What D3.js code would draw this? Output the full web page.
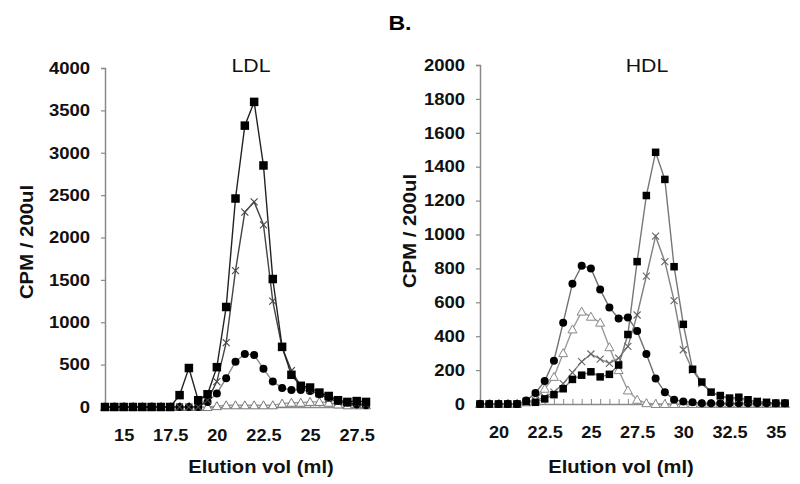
<!DOCTYPE html>
<html><head><meta charset="utf-8">
<script src="https://cdn.jsdelivr.net/npm/d3@7"></script>
<style>body{margin:0;background:#fff}svg{display:block}text{font-family:"Liberation Sans",Arial,sans-serif}</style>
</head><body><svg id="c" width="800" height="484"></svg>
<script>
// LDL panel: elution volume 14 .. 28 ml, step 0.5
const ldlVol = d3.range(14, 28.01, 0.5);
const ldlSquare = [0,0,0,0,0,0,0,0,140,460,80,150,470,1180,2460,3320,3600,2850,1510,710,380,250,230,170,130,80,60,70,60];
const ldlCross  = [0,0,0,0,0,0,0,0,0,0,0,80,300,760,1610,2300,2420,2150,1250,700,430,250,200,150,100,60,40,40,30];
const ldlCircle = [0,0,0,0,0,0,0,0,0,0,0,60,160,340,535,625,615,450,300,225,200,200,190,150,110,70,50,30,20];
const ldlTri    = [0,0,0,0,0,0,0,0,0,0,0,0,10,20,20,20,20,20,20,40,50,50,60,60,50,30,20,20,20];
const ldlXTicks = [15,17.5,20,22.5,25,27.5];
const ldlYTicks = [0,500,1000,1500,2000,2500,3000,3500,4000];

// HDL panel: elution volume 19 .. 35.5 ml, step 0.5
const hdlVol = d3.range(19, 35.51, 0.5);
const hdlSquare = [0,0,0,0,0,15,10,30,55,90,145,170,190,160,175,230,410,840,1230,1485,1325,810,470,205,130,70,50,35,40,25,15,10,5,5];
const hdlCross  = [0,0,0,0,0,10,20,40,70,120,185,250,295,265,240,270,340,525,755,990,840,610,320,200,120,70,45,30,30,20,15,10,5,5];
const hdlCircle = [0,0,0,0,0,20,65,135,255,480,710,815,800,675,570,505,510,430,295,150,70,25,15,10,5,5,5,5,5,5,5,5,5,5];
const hdlTri    = [0,0,0,0,0,10,25,90,160,300,440,545,515,480,335,200,80,25,5,0,0,0,0,0,0,0,0,0,0,0,0,0,0,0];
const hdlXTicks = [20,22.5,25,27.5,30,32.5,35];
const hdlYTicks = [0,200,400,600,800,1000,1200,1400,1600,1800,2000];

const svg = d3.select("#c");

// widen glyphs horizontally (the reference text looks stretched)
function stretch(sel, f){
  sel.each(function(){
    const w = this.getComputedTextLength();
    if (w > 0) d3.select(this).attr("textLength", w*f).attr("lengthAdjust","spacingAndGlyphs");
  });
}

stretch(svg.append("text").attr("x",400).attr("y",30).attr("text-anchor","middle")
  .attr("font-size",21).attr("font-weight","bold").text("B."), 1.1);

function panel(cfg){
  const x = d3.scaleLinear().domain(cfg.xDom).range(cfg.xRange);
  const y = d3.scaleLinear().domain(cfg.yDom).range(cfg.yRange);
  const g = svg.append("g");
  const axisCol = "#8a8a8a";
  const ff = "'Liberation Sans',Arial,sans-serif";
  // y axis
  const ya = g.append("g").attr("transform",`translate(${cfg.xRange[0]},0)`)
    .call(d3.axisLeft(y).tickValues(cfg.yTicks).tickSize(4).tickPadding(11).tickFormat(d=>String(d)));
  ya.select(".domain").attr("stroke",axisCol).attr("stroke-width",1.5);
  ya.selectAll(".tick line").attr("stroke",axisCol).attr("stroke-width",1.2);
  ya.selectAll("text").attr("font-size",16.5).attr("font-weight","bold").attr("fill","#111").attr("font-family",ff);
  stretch(ya.selectAll("text"), 1.12);
  // x axis line with small inner ticks every 0.5 ml
  const xa = g.append("g").attr("transform",`translate(0,${cfg.yRange[0]})`)
    .call(d3.axisBottom(x).tickValues(cfg.vol).tickSize(0).tickFormat(""));
  xa.select(".domain").attr("stroke",axisCol).attr("stroke-width",1.5);
  xa.selectAll(".tick line").remove();
  xa.selectAll(".tick").append("line").attr("y1",0).attr("y2",-5).attr("stroke",axisCol).attr("stroke-width",1);
  // x labels
  const xl = g.append("g").attr("transform",`translate(0,${cfg.yRange[0]})`)
    .call(d3.axisBottom(x).tickValues(cfg.xTicks).tickSize(0).tickPadding(22).tickFormat(d=>String(d)));
  xl.select(".domain").remove();
  xl.selectAll("text").attr("font-size",16.5).attr("font-weight","bold").attr("fill","#111").attr("font-family",ff);
  stretch(xl.selectAll("text"), 1.1);
  // titles
  stretch(g.append("text").attr("x",cfg.titleX).attr("y",72).attr("text-anchor","middle")
    .attr("font-size",19).attr("fill","#111").text(cfg.title), 1.12);
  stretch(g.append("text").attr("x",cfg.xTitleX).attr("y",473).attr("text-anchor","middle")
    .attr("font-size",18).attr("font-weight","bold").attr("fill","#111").text("Elution vol (ml)"), 1.12);
  const yt = g.append("text").attr("transform",`translate(${cfg.yTitleX},${cfg.yTitleY}) rotate(-90)`)
    .attr("text-anchor","middle").attr("font-size",18).attr("font-weight","bold").attr("fill","#111")
    .text("CPM  /  200ul");
  stretch(yt, 1.13);

  const line = d3.line().x((d,i)=>x(cfg.vol[i])).y(d=>y(d));
  cfg.series.forEach(s=>{
    g.append("path").datum(s.values).attr("d",line).attr("fill","none")
      .attr("stroke",s.line).attr("stroke-width",1.4);
  });
  cfg.series.forEach(s=>{
    const m = g.append("g");
    s.values.forEach((v,i)=>{
      const px = x(cfg.vol[i]), py = y(v);
      if(s.type==="square"){
        m.append("rect").attr("x",px-s.size/2).attr("y",py-s.size/2)
          .attr("width",s.size).attr("height",s.size).attr("fill","#000");
      } else if(s.type==="circle"){
        m.append("circle").attr("cx",px).attr("cy",py).attr("r",4).attr("fill","#000");
      } else if(s.type==="tri"){
        m.append("path").attr("d",`M${px},${py-4.5}L${px+4.5},${py+3.5}L${px-4.5},${py+3.5}Z`)
          .attr("fill","#fff").attr("stroke",s.mark).attr("stroke-width",1);
      } else if(s.type==="cross"){
        m.append("path").attr("d",`M${px-3.5},${py-3.5}L${px+3.5},${py+3.5}M${px+3.5},${py-3.5}L${px-3.5},${py+3.5}`)
          .attr("stroke",s.mark).attr("stroke-width",1.1);
      }
    });
  });
}

panel({
  vol: ldlVol, xDom:[14,28], xRange:[105,366], yDom:[0,4000], yRange:[407,68],
  xTicks: ldlXTicks, yTicks: ldlYTicks, title:"LDL", titleX:251, xTitleX:261, yTitleX:33, yTitleY:242,
  series:[
    {values:ldlTri, type:"tri", line:"#9a9a9a", mark:"#777"},
    {values:ldlCircle, type:"circle", line:"#8a8a8a"},
    {values:ldlCross, type:"cross", line:"#444", mark:"#444"},
    {values:ldlSquare, type:"square", line:"#222", size:8.5}
  ]
});
panel({
  vol: hdlVol, xDom:[19,35.5], xRange:[480,785], yDom:[0,2000], yRange:[404,65],
  xTicks: hdlXTicks, yTicks: hdlYTicks, title:"HDL", titleX:647, xTitleX:621, yTitleX:416, yTitleY:231,
  series:[
    {values:hdlTri, type:"tri", line:"#9a9a9a", mark:"#888"},
    {values:hdlCircle, type:"circle", line:"#707070"},
    {values:hdlCross, type:"cross", line:"#808080", mark:"#666"},
    {values:hdlSquare, type:"square", line:"#777", size:7.5}
  ]
});
</script></body></html>
